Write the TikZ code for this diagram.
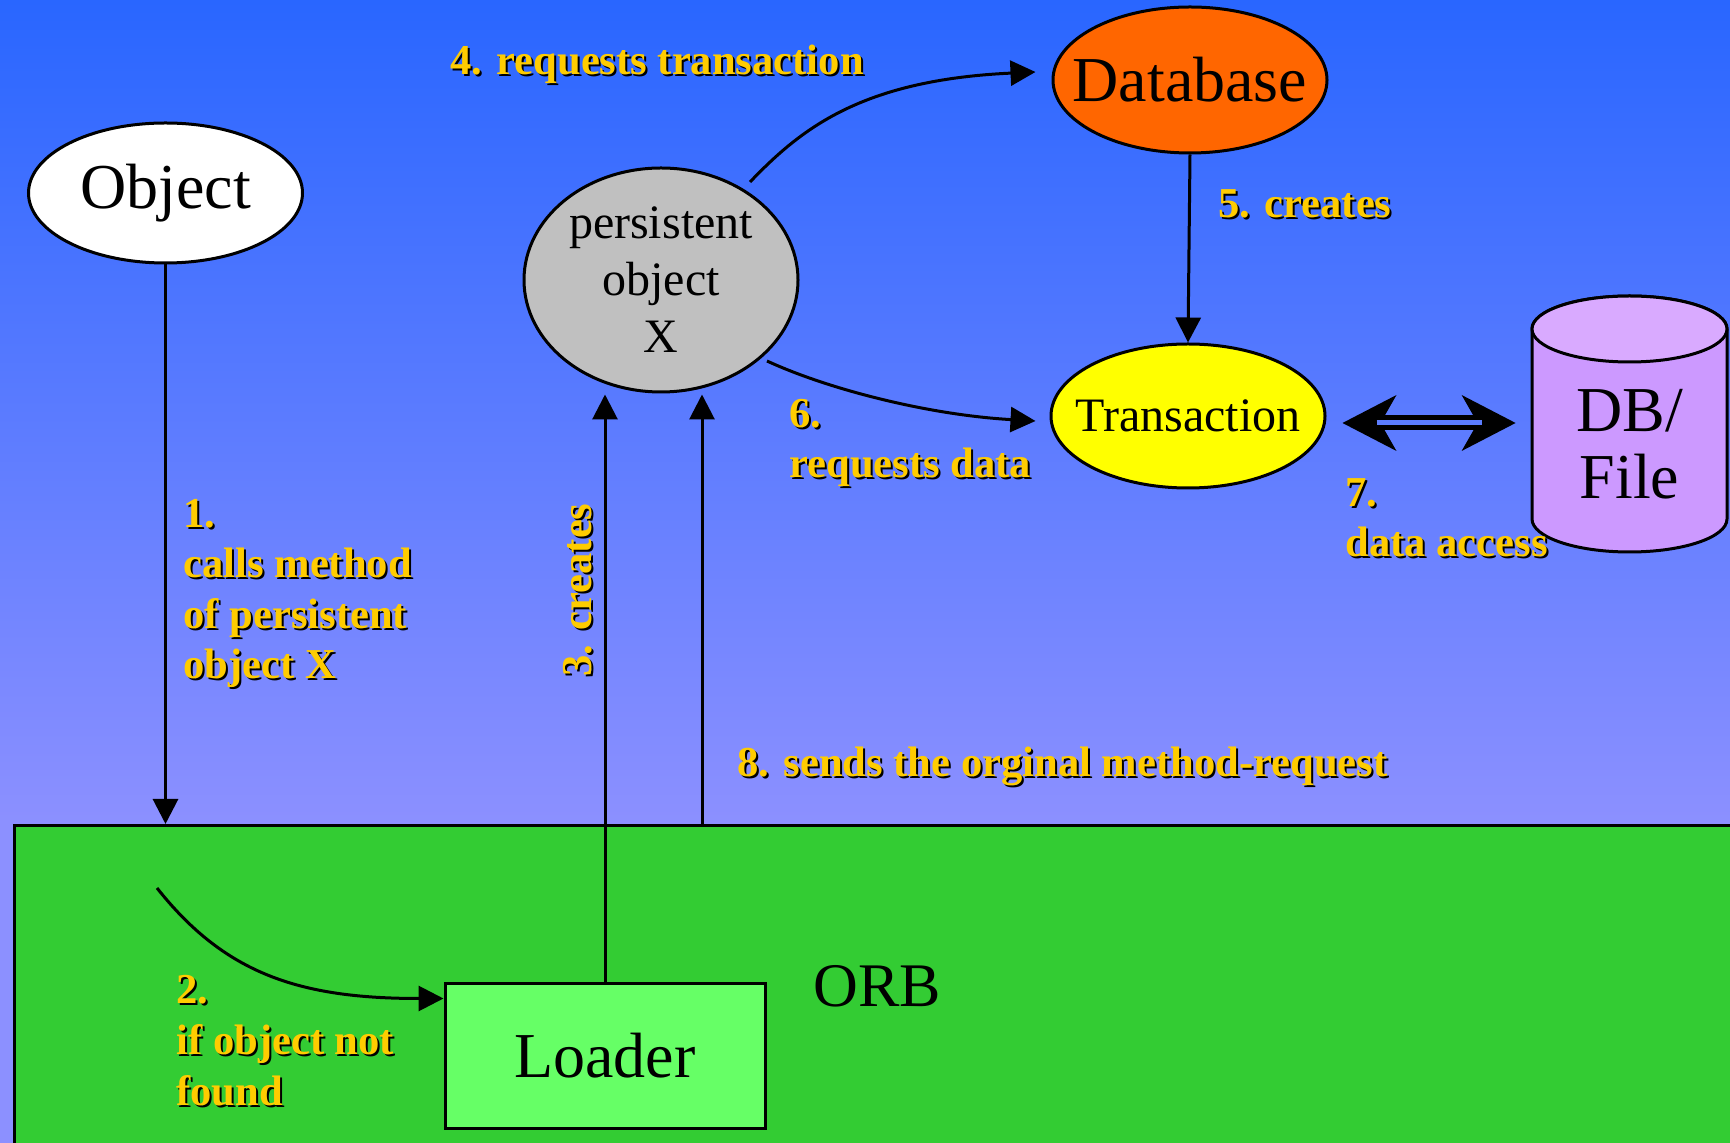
\documentclass[tikz,border=0pt]{standalone}
\usepackage{fontspec}
\setmainfont{Liberation Serif}
\usetikzlibrary{shapes.geometric,arrows.meta,calc}

\definecolor{skytop}{HTML}{2966FF}
\definecolor{skybottom}{HTML}{8C90FF}
\definecolor{orbgreen}{HTML}{33CC33}
\definecolor{loadergreen}{HTML}{66FF66}
\definecolor{dborange}{HTML}{FF6600}
\definecolor{txyellow}{HTML}{FFFF00}
\definecolor{pgray}{HTML}{C0C0C0}
\definecolor{cylbody}{HTML}{CC99FF}
\definecolor{cyltop}{HTML}{D9AAFF}
\definecolor{tagyellow}{HTML}{FFCC00}
\definecolor{midsky}{HTML}{5C7DFF}

% step label: a shadow copy first, then the yellow text on top
% (position = baseline of the last line, left end)
\newcommand\flowlabel[4][]{%
  \node[tagshadow,#1] at ([shift={(1pt,-1pt)}]#3) {#4};
  \node[tagtext,#1] (#2) at (#3) {#4};}

\begin{document}
\begin{tikzpicture}[x=0.5pt,y=-0.5pt,
  bubble/.style={ellipse, draw=black, line width=1.5pt, inner sep=-14pt, align=center, text=black},
  bigfont/.style={font=\fontsize{32}{33.5}\selectfont},
  midfont/.style={font=\fontsize{24}{28.5}\selectfont},
  tagtext/.style={anchor=base west, align=left, inner sep=0pt, text=tagyellow,
    font=\fontsize{21.3}{25.3}\selectfont\bfseries},
  tagshadow/.style={tagtext, text=black},
  flow/.style={draw=black, line width=1.5pt, -{Triangle[length=12.5pt,width=12.5pt]}},
  plain/.style={draw=black, line width=1.5pt}]

\useasboundingbox (0,0) rectangle (1730,1143);
\clip (0,0) rectangle (1730,1143);

% sky background
\shade[top color=skytop, bottom color=skybottom] (0,0) rectangle (1730,824);
\fill[skybottom] (0,823) rectangle (1730,1143);

% ORB area
\node[draw=black, line width=1.5pt, fill=orbgreen, anchor=north west,
      minimum width=900pt, minimum height=200pt, inner sep=0pt] (orb) at (13,824) {};
\node[anchor=base west, inner sep=0pt, font=\fontsize{31}{33}\selectfont] (orblabel) at (813,1006) {ORB};

% nodes
\node[bubble, bigfont, fill=white, minimum width=137pt, minimum height=70pt] (obj) at (165.5,193) {Object};
\node[bubble, midfont, fill=pgray, minimum width=137pt, minimum height=112pt] (pox) at (661,280) {persistent\\object\\X};
\node[bubble, bigfont, fill=dborange, minimum width=137pt, minimum height=73pt] (db) at (1190,80) {Database};
\node[bubble, midfont, fill=txyellow, minimum width=137pt, minimum height=72pt] (tr) at (1188,416) {Transaction};
\node[draw=black, line width=1.5pt, fill=loadergreen, bigfont, inner sep=0pt,
      minimum width=160pt, minimum height=72.5pt] (loader) at (605,1055.5) {Loader};

% DB/File cylinder
\filldraw[fill=cylbody, draw=black, line width=1.5pt]
  (1532,329) -- (1532,519)
  arc[start angle=180, end angle=360, x radius=48.75pt, y radius=16.5pt]
  -- (1727,329)
  arc[start angle=0, end angle=180, x radius=48.75pt, y radius=16.5pt] -- cycle;
\filldraw[fill=cyltop, draw=black, line width=1.5pt] (1629.5,329) ellipse [x radius=48.75pt, y radius=16.5pt];
\node[bigfont, align=center, inner sep=0pt, minimum width=97.5pt] (cyl) at (1629.5,444) {DB/\\File};

% connectors
\coordinate (a1e) at (obj.south |- orb.north);
\draw[flow] (obj.south) -- (a1e);

\coordinate (a2s) at (157,888);
\draw[flow] (a2s) .. controls +(34pt,-43pt) and +(-72pt,0pt) .. ([yshift=-8.5pt]loader.north west);

\coordinate (a3e) at (loader.north |- pox.south);
\draw[flow] (loader.north) -- ([yshift=-0.5pt]a3e);

\coordinate (a4s) at (750,182);
\draw[flow] (a4s) .. controls (800,130) and (860,80) .. ([xshift=-8pt,yshift=4pt]db.west);

\draw[flow] (db.south) -- (tr.north);

\coordinate (a6s) at (767,361);
\draw[flow] (a6s) .. controls (830,390) and (930,415) .. ([xshift=-7pt,yshift=-2.5pt]tr.west);

% double-headed link between Transaction and DB/File
\coordinate (dl) at ([xshift=8pt,yshift=-3.5pt]tr.east);
\coordinate (dr) at ([xshift=-8pt]cyl.west |- dl);
\fill (dl) -- ++(54,-28) -- ++(-16,28) -- ++(16,28) -- cycle;
\fill (dr) -- ++(-54,-28) -- ++(16,28) -- ++(-16,28) -- cycle;
\draw[line width=2.5pt, double=midsky, double distance=2.5pt] ([xshift=17pt]dl) -- ([xshift=-17pt]dr);

\coordinate (a8s) at ([xshift=48.5pt]loader.north |- orb.north);
\draw[flow] (a8s) -- ([yshift=-0.5pt]a8s |- pox.south);

% step labels
\flowlabel{t1}{183,679}{1.\\calls method\\of persistent\\object X}
\flowlabel{t2}{176,1105}{2.\\if object not\\found}
\flowlabel[rotate=90]{t3}{591,677}{3. creates}
\flowlabel{t4}{450,75}{4. requests transaction}
\flowlabel{t5}{1218,218}{5. creates}
\flowlabel{t6}{789,478}{6.\\requests data}
\flowlabel{t7}{1345,557}{7.\\data access}
\flowlabel{t8}{737,777}{8. sends the orginal method-request}

\end{tikzpicture}
\end{document}
